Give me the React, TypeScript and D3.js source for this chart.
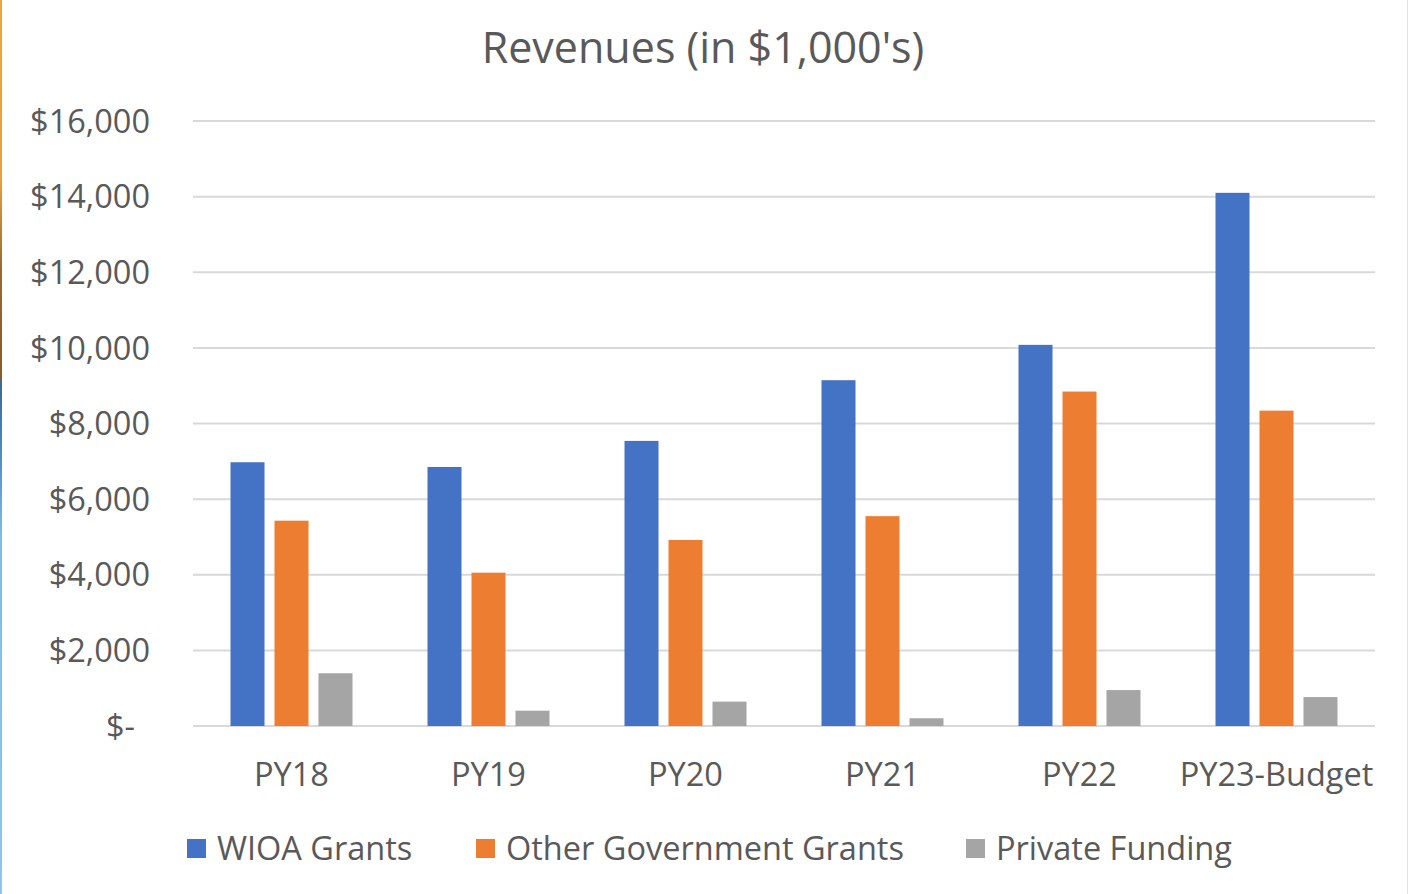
import * as d3 from "d3";

// values in $1,000's
const years = ["PY18", "PY19", "PY20", "PY21", "PY22", "PY23-Budget"];
const seriesNames = ["WIOA Grants", "Other Government Grants", "Private Funding"];
const wioa = [6975, 6850, 7540, 9145, 10080, 14100];
const otherGov = [5430, 4055, 4920, 5550, 8845, 8340];
const privateFunding = [1395, 405, 645, 205, 950, 765];
const yTicks = [0, 2000, 4000, 6000, 8000, 10000, 12000, 14000, 16000];
const colors = ["#4472C4", "#ED7D31", "#A5A5A5"];

const WIDTH = 1409;
const HEIGHT = 894;
const FONT = "'Open Sans', sans-serif";
const TEXT = "#595959";
const LABEL_SIZE = 32.5;

export default function App() {
  const seriesValues = [wioa, otherGov, privateFunding];

  const x = d3.scaleBand().domain(years).range([193, 1375]).padding(0);
  // bars inside a category group
  const x1 = d3
    .scaleBand()
    .domain(seriesNames)
    .range([0, 122])
    .paddingInner(0.227)
    .paddingOuter(0);
  const groupOffset = (x.bandwidth() - 122) / 2;

  const y = d3.scaleLinear().domain([0, 16000]).range([726, 121]);

  const money = (v: number) => (v === 0 ? "$-" : "$" + d3.format(",")(v));

  // legend positions (left edge of each square)
  const legendX = [187, 476, 966];

  return (
    <div style={{ position: "absolute", left: 0, top: 0 }}>
      <svg width={WIDTH} height={HEIGHT} style={{ display: "block", background: "#fff" }}>
        <defs>
          <linearGradient id="edge" x1="0" y1="0" x2="0" y2="1">
            <stop offset="0" stopColor="#f2a23c" />
            <stop offset="0.2" stopColor="#e9a040" />
            <stop offset="0.3" stopColor="#9a6a30" />
            <stop offset="0.42" stopColor="#8a5a28" />
            <stop offset="0.43" stopColor="#3a6a96" />
            <stop offset="0.5" stopColor="#4a88c0" />
            <stop offset="0.6" stopColor="#7fbde6" />
            <stop offset="1" stopColor="#8cc6ea" />
          </linearGradient>
        </defs>
        <rect x={0} y={0} width={2} height={HEIGHT} fill="url(#edge)" />
        <line x1={1407.5} x2={1407.5} y1={0} y2={HEIGHT} stroke="#e0e0e0" strokeWidth={1} />

        <text
          x={703}
          y={63}
          textAnchor="middle"
          fontFamily={FONT}
          fontSize={43}
          fill={TEXT}
        >
          Revenues (in $1,000's)
        </text>

        {/* gridlines + y labels */}
        {yTicks.map((t) => (
          <g key={t}>
            <line
              x1={193}
              x2={1375}
              y1={y(t)}
              y2={y(t)}
              stroke="#d9d9d9"
              strokeWidth={2}
            />
            <text
              x={t === 0 ? 135 : 150}
              y={y(t)}
              dy="0.36em"
              textAnchor="end"
              fontFamily={FONT}
              fontSize={LABEL_SIZE}
              fill={TEXT}
            >
              {money(t)}
            </text>
          </g>
        ))}

        {/* bars */}
        {years.map((yr, i) => (
          <g key={yr} transform={`translate(${(x(yr) as number) + groupOffset},0)`}>
            {seriesNames.map((s, j) => {
              const v = seriesValues[j][i];
              return (
                <rect
                  key={s}
                  x={x1(s)}
                  y={y(v)}
                  width={x1.bandwidth()}
                  height={y(0) - y(v)}
                  fill={colors[j]}
                />
              );
            })}
          </g>
        ))}

        {/* category labels */}
        {years.map((yr) => (
          <text
            key={yr}
            x={(x(yr) as number) + x.bandwidth() / 2}
            y={786}
            textAnchor="middle"
            fontFamily={FONT}
            fontSize={LABEL_SIZE}
            fill={TEXT}
          >
            {yr}
          </text>
        ))}

        {/* legend */}
        {seriesNames.map((s, j) => (
          <g key={s} transform={`translate(${legendX[j]},0)`}>
            <rect x={0} y={839} width={19} height={19} fill={colors[j]} />
            <text
              x={30}
              y={848}
              dy="0.36em"
              fontFamily={FONT}
              fontSize={LABEL_SIZE}
              fill={TEXT}
            >
              {s}
            </text>
          </g>
        ))}
      </svg>
    </div>
  );
}
